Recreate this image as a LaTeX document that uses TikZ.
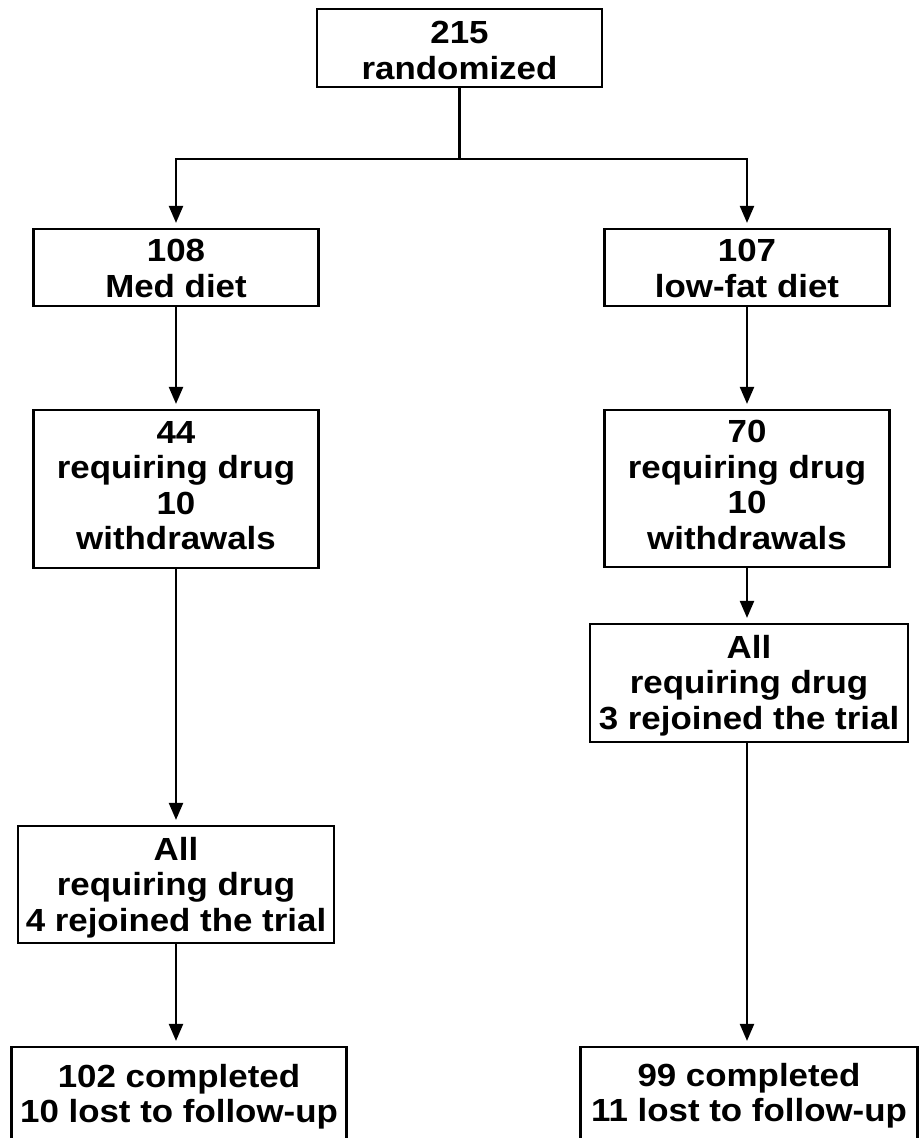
\documentclass[tikz,border=0pt]{standalone}
\usepackage{fontspec}
\newfontfamily\boxfont[FakeStretch=1.09]{Liberation Sans}
\usetikzlibrary{arrows.meta}
\begin{document}
\begin{tikzpicture}[x=1pt,y=-1pt,
  box/.style={draw, line width=2.2pt, rectangle, inner sep=0pt},
  txt/.style={anchor=north, inner sep=0pt, align=center,
    font=\boxfont\bfseries\fontsize{32}{35.5}\selectfont},
  conn/.style={line width=2.2pt},
  arr/.style={conn, shorten >=5pt, -{Triangle[length=17pt,width=14pt]}}]
\useasboundingbox (0,0) rectangle (919,1138);
\clip (0,0) rectangle (919,1138);

% boxes
\node[box, minimum width=285pt, minimum height=78pt] (top) at (459.5,48) {};
\node[box, minimum width=285pt, minimum height=77pt] (med) at (176,267.5) {};
\node[box, minimum width=285pt, minimum height=77pt] (low) at (747,267.5) {};
\node[box, minimum width=285pt, minimum height=158pt] (r44) at (176,489) {};
\node[box, minimum width=285pt, minimum height=157pt] (r70) at (747,488.5) {};
\node[box, minimum width=316pt, minimum height=117pt] (allL) at (176,884.5) {};
\node[box, minimum width=318pt, minimum height=118pt] (allR) at (749,683) {};
\node[box, minimum width=335pt, minimum height=140pt] (botL) at (179,1117) {};
\node[box, minimum width=337pt, minimum height=140pt] (botR) at (749,1117) {};

% texts
\node[txt] (topt) at (459.5,21) {215\\randomized};
\node[txt] (medt) at (176,239) {108\\Med diet};
\node[txt] (lowt) at (747,239) {107\\low-fat diet};
\node[txt] (r44t) at (176,421) {44\\requiring drug\\10\\withdrawals};
\node[txt] (r70t) at (747,420) {70\\requiring drug\\10\\withdrawals};
\node[txt] (allLt) at (176,837) {All\\requiring drug\\4 rejoined the trial};
\node[txt] (allRt) at (749,635) {All\\requiring drug\\3 rejoined the trial};
\node[txt] (botLt) at (179,1064) {102 completed\\10 lost to follow-up};
\node[txt] (botRt) at (749,1063) {99 completed\\11 lost to follow-up};

% connectors
\coordinate (split) at (459.5,159);
\draw[conn] (top.south) -- (split);
\draw[arr] (split) -| (med.north);
\draw[arr] (split) -| (low.north);
\draw[arr] (med.south) -- (r44.north);
\draw[arr] (low.south) -- (r70.north);
\draw[arr] (r44.south) -- (allL.north);
\draw[arr] (r70.south) -- (r70.south |- allR.north);
\draw[arr] (allL.south) -- (allL.south |- botL.north);
\draw[arr] (r70.south |- allR.south) -- (r70.south |- botR.north);
\end{tikzpicture}
\end{document}
